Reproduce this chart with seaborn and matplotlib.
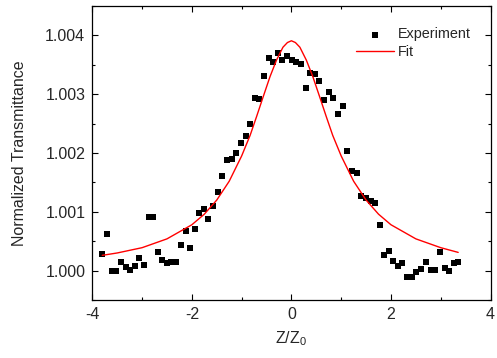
import numpy as np
import pandas as pd
import seaborn as sns
import matplotlib.pyplot as plt
from matplotlib.ticker import MultipleLocator, FormatStrFormatter

# measured points (Z/Z0, normalized transmittance)
exp_z = [-3.80, -3.71, -3.60, -3.52, -3.42, -3.33, -3.24, -3.15, -3.06, -2.96,
         -2.86, -2.78, -2.68, -2.59, -2.50, -2.41, -2.31, -2.22, -2.12, -2.04,
         -1.94, -1.85, -1.76, -1.67, -1.57, -1.48, -1.39, -1.30, -1.20, -1.11,
         -1.01, -0.92, -0.83, -0.74, -0.65, -0.55, -0.46, -0.37, -0.27, -0.18,
         -0.08, 0.01, 0.10, 0.20, 0.29, 0.38, 0.47, 0.56, 0.65, 0.75,
         0.84, 0.93, 1.03, 1.12, 1.21, 1.31, 1.40, 1.50, 1.59, 1.68,
         1.77, 1.86, 1.96, 2.05, 2.14, 2.23, 2.33, 2.42, 2.51, 2.61,
         2.70, 2.80, 2.89, 2.98, 3.08, 3.17, 3.26, 3.35]
exp_t = [1.000275, 1.000618, 1.000000, 1.000000, 1.000148, 1.000058, 1.000012, 1.000080, 1.000221, 1.000092,
         1.000908, 1.000908, 1.000321, 1.000182, 1.000126, 1.000151, 1.000148, 1.000431, 1.000674, 1.000382,
         1.000708, 1.000985, 1.001044, 1.000878, 1.001104, 1.001331, 1.001604, 1.001878, 1.001900, 1.001998,
         1.002168, 1.002292, 1.002491, 1.002932, 1.002912, 1.003309, 1.003623, 1.003548, 1.003699, 1.003581,
         1.003659, 1.003577, 1.003543, 1.003521, 1.003110, 1.003362, 1.003345, 1.003226, 1.002898, 1.003031,
         1.002937, 1.002664, 1.002801, 1.002027, 1.001698, 1.001654, 1.001268, 1.001229, 1.001188, 1.001155,
         1.000776, 1.000267, 1.000340, 1.000170, 1.000080, 1.000136, 0.999893, 0.999893, 0.999973, 1.000024,
         1.000148, 1.000012, 1.000012, 1.000312, 1.000041, 0.999990, 1.000131, 1.000153]

# fit curve
fit_z = [-3.80, -3.50, -3.00, -2.50, -2.00, -1.75, -1.50, -1.25, -1.00, -0.83,
         -0.70, -0.57, -0.43, -0.30, -0.17, -0.08, 0.00, 0.08, 0.17, 0.30,
         0.43, 0.57, 0.70, 0.83, 1.00, 1.25, 1.50, 1.75, 2.00, 2.50,
         3.00, 3.35]
fit_t = [1.00026, 1.00030, 1.00039, 1.00054, 1.00078, 1.00096, 1.00120, 1.00152, 1.00195, 1.00230,
         1.00262, 1.00295, 1.00330, 1.00358, 1.00380, 1.00388, 1.00391, 1.00388, 1.00380, 1.00358,
         1.00330, 1.00295, 1.00262, 1.00230, 1.00195, 1.00152, 1.00120, 1.00096, 1.00078, 1.00054,
         1.00039, 1.00031]

exp_df = pd.DataFrame({"z": exp_z, "T": exp_t})
fit_df = pd.DataFrame({"z": fit_z, "T": fit_t})

sns.set_style("ticks")
plt.rcParams["font.family"] = ["Liberation Sans", "DejaVu Sans"]
plt.rcParams["font.size"] = 11.5
plt.rcParams["axes.unicode_minus"] = False  # plain hyphen like the original

fig = plt.figure(figsize=(4.97, 3.58), dpi=100)
ax = fig.add_axes([0.1857, 0.162, 0.8013, 0.821])

sns.scatterplot(data=exp_df, x="z", y="T", marker="s", color="black", s=22,
                linewidth=0, label="Experiment", ax=ax)
sns.lineplot(data=fit_df, x="z", y="T", color="red", linewidth=1, sort=False,
             label="Fit", ax=ax)

ax.set_xlim(-4, 4)
ax.set_ylim(0.9995, 1.0045)
ax.xaxis.set_major_locator(MultipleLocator(2))
ax.xaxis.set_minor_locator(MultipleLocator(1))
ax.yaxis.set_major_locator(MultipleLocator(0.001))
ax.yaxis.set_minor_locator(MultipleLocator(0.0005))
ax.yaxis.set_major_formatter(FormatStrFormatter("%.3f"))
ax.tick_params(which="both", direction="in", top=True, right=True,
               labelsize=11.5, width=0.8, color="black", pad=5)
ax.tick_params(which="major", length=4)
ax.tick_params(which="minor", length=2)
for sp in ax.spines.values():
    sp.set_visible(True)
    sp.set_color("black")
    sp.set_linewidth(0.9)

ax.set_xlabel("Z/Z$_\\mathregular{0}$", fontsize=11.5, labelpad=5)
ax.set_ylabel("Normalized Transmittance", fontsize=11.5, labelpad=13)

ax.legend(loc="upper left", bbox_to_anchor=(0.63, 0.972), frameon=False,
          fontsize=10.4, handlelength=2.6, handletextpad=0.3, labelspacing=0.25)

fig.savefig("out.png", dpi=100)
